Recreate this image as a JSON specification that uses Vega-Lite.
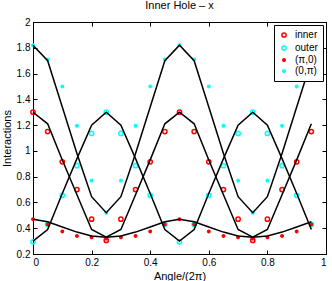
{
"$schema":"https://vega.github.io/schema/vega-lite/v6.json",
"width":293,"height":232,
"autosize":{"type":"none"},
"padding":{"left":33,"top":22,"right":6,"bottom":27},
"title":{"text":"Inner Hole – x","fontSize":11,"fontWeight":"normal","font":"Liberation Sans","offset":6,"color":"black"},
"config":{
 "font":"Liberation Sans",
 "view":{"stroke":"black","strokeWidth":1},
 "axis":{"grid":false,"domainColor":"black","tickColor":"black","labelColor":"black","titleColor":"black","labelFont":"Liberation Sans","titleFont":"Liberation Sans","labelFontSize":10,"titleFontSize":11,"titleFontWeight":"normal","tickSize":-4,"labelPadding":7,"format":"~g"},
 "legend":{"orient":"top-right","offset":3,"fillColor":"white","strokeColor":"black","padding":5,"labelFontSize":10,"labelFont":"Liberation Sans","labelColor":"black","rowPadding":1,"symbolStrokeWidth":1.5,"labelOffset":6}
},
"resolve":{"axis":{"x":"independent","y":"independent"}},
"layer":[
{
 "data":{"values":[
{"s":"inner","x":0,"y":1.30},{"s":"inner","x":0.05,"y":1.15},{"s":"inner","x":0.1,"y":0.915},{"s":"inner","x":0.15,"y":0.70},{"s":"inner","x":0.2,"y":0.47},{"s":"inner","x":0.25,"y":0.305},{"s":"inner","x":0.3,"y":0.47},{"s":"inner","x":0.35,"y":0.70},{"s":"inner","x":0.4,"y":0.915},{"s":"inner","x":0.45,"y":1.15},
{"s":"inner","x":0.5,"y":1.30},{"s":"inner","x":0.55,"y":1.15},{"s":"inner","x":0.6,"y":0.915},{"s":"inner","x":0.65,"y":0.70},{"s":"inner","x":0.7,"y":0.47},{"s":"inner","x":0.75,"y":0.305},{"s":"inner","x":0.8,"y":0.47},{"s":"inner","x":0.85,"y":0.70},{"s":"inner","x":0.9,"y":0.915},{"s":"inner","x":0.95,"y":1.15},
{"s":"outer","x":0,"y":0.295},{"s":"outer","x":0.05,"y":0.43},{"s":"outer","x":0.1,"y":0.655},{"s":"outer","x":0.15,"y":0.885},{"s":"outer","x":0.2,"y":1.135},{"s":"outer","x":0.25,"y":1.30},{"s":"outer","x":0.3,"y":1.135},{"s":"outer","x":0.35,"y":0.885},{"s":"outer","x":0.4,"y":0.655},{"s":"outer","x":0.45,"y":0.43},
{"s":"outer","x":0.5,"y":0.295},{"s":"outer","x":0.55,"y":0.43},{"s":"outer","x":0.6,"y":0.655},{"s":"outer","x":0.65,"y":0.885},{"s":"outer","x":0.7,"y":1.135},{"s":"outer","x":0.75,"y":1.30},{"s":"outer","x":0.8,"y":1.135},{"s":"outer","x":0.85,"y":0.885},{"s":"outer","x":0.9,"y":0.655},{"s":"outer","x":0.95,"y":0.43},
{"s":"(π,0)","x":0,"y":0.47},{"s":"(π,0)","x":0.05,"y":0.43},{"s":"(π,0)","x":0.1,"y":0.375},{"s":"(π,0)","x":0.15,"y":0.34},{"s":"(π,0)","x":0.2,"y":0.33},{"s":"(π,0)","x":0.25,"y":0.32},{"s":"(π,0)","x":0.3,"y":0.33},{"s":"(π,0)","x":0.35,"y":0.34},{"s":"(π,0)","x":0.4,"y":0.375},{"s":"(π,0)","x":0.45,"y":0.43},
{"s":"(π,0)","x":0.5,"y":0.47},{"s":"(π,0)","x":0.55,"y":0.43},{"s":"(π,0)","x":0.6,"y":0.375},{"s":"(π,0)","x":0.65,"y":0.34},{"s":"(π,0)","x":0.7,"y":0.33},{"s":"(π,0)","x":0.75,"y":0.32},{"s":"(π,0)","x":0.8,"y":0.33},{"s":"(π,0)","x":0.85,"y":0.34},{"s":"(π,0)","x":0.9,"y":0.375},{"s":"(π,0)","x":0.95,"y":0.43},
{"s":"(0,π)","x":0,"y":1.82},{"s":"(0,π)","x":0.05,"y":1.71},{"s":"(0,π)","x":0.1,"y":1.50},{"s":"(0,π)","x":0.15,"y":1.195},{"s":"(0,π)","x":0.2,"y":0.77},{"s":"(0,π)","x":0.25,"y":0.52},{"s":"(0,π)","x":0.3,"y":0.77},{"s":"(0,π)","x":0.35,"y":1.195},{"s":"(0,π)","x":0.4,"y":1.50},{"s":"(0,π)","x":0.45,"y":1.71},
{"s":"(0,π)","x":0.5,"y":1.82},{"s":"(0,π)","x":0.55,"y":1.71},{"s":"(0,π)","x":0.6,"y":1.50},{"s":"(0,π)","x":0.65,"y":1.195},{"s":"(0,π)","x":0.7,"y":0.77},{"s":"(0,π)","x":0.75,"y":0.52},{"s":"(0,π)","x":0.8,"y":0.77},{"s":"(0,π)","x":0.85,"y":1.195},{"s":"(0,π)","x":0.9,"y":1.50},{"s":"(0,π)","x":0.95,"y":1.71}
 ]},
 "mark":{"type":"point","opacity":1,"strokeWidth":1.5},
 "encoding":{
  "x":{"field":"x","type":"quantitative","scale":{"domain":[0,1],"nice":false},"axis":null},
  "y":{"field":"y","type":"quantitative","scale":{"domain":[0.2,2],"nice":false,"zero":false},"axis":null},
  "stroke":{"field":"s","type":"nominal","scale":{"domain":["inner","outer","(π,0)","(0,π)"],"range":["#ff0000","#00ffff","#ff0000","#00ffff"]},"legend":{"title":null}},
  "fill":{"field":"s","type":"nominal","scale":{"domain":["inner","outer","(π,0)","(0,π)"],"range":["rgba(255,255,255,0)","rgba(255,255,255,0)","#ff0000","#00ffff"]},"legend":{"title":null}},
  "size":{"field":"s","type":"nominal","scale":{"type":"ordinal","domain":["inner","outer","(π,0)","(0,π)"],"range":[18,18,6,6]},"legend":{"title":null}}
 }
},
{
 "data":{"values":[
{"f":"z","x":0,"y":1.82},{"f":"z","x":0.05,"y":1.70},{"f":"z","x":0.1,"y":1.34},{"f":"z","x":0.15,"y":0.98},{"f":"z","x":0.2,"y":0.645},{"f":"z","x":0.25,"y":0.52},{"f":"z","x":0.3,"y":0.645},{"f":"z","x":0.35,"y":0.98},{"f":"z","x":0.4,"y":1.34},{"f":"z","x":0.45,"y":1.70},
{"f":"z","x":0.5,"y":1.82},{"f":"z","x":0.55,"y":1.70},{"f":"z","x":0.6,"y":1.34},{"f":"z","x":0.65,"y":0.98},{"f":"z","x":0.7,"y":0.645},{"f":"z","x":0.75,"y":0.52},{"f":"z","x":0.8,"y":0.645},{"f":"z","x":0.85,"y":0.98},{"f":"z","x":0.9,"y":1.34},{"f":"z","x":0.95,"y":1.70},
{"f":"i","x":0,"y":1.30},{"f":"i","x":0.05,"y":1.21},{"f":"i","x":0.1,"y":0.93},{"f":"i","x":0.15,"y":0.66},{"f":"i","x":0.2,"y":0.39},{"f":"i","x":0.25,"y":0.33},{"f":"i","x":0.3,"y":0.39},{"f":"i","x":0.35,"y":0.66},{"f":"i","x":0.4,"y":0.93},{"f":"i","x":0.45,"y":1.21},
{"f":"i","x":0.5,"y":1.30},{"f":"i","x":0.55,"y":1.21},{"f":"i","x":0.6,"y":0.93},{"f":"i","x":0.65,"y":0.66},{"f":"i","x":0.7,"y":0.39},{"f":"i","x":0.75,"y":0.33},{"f":"i","x":0.8,"y":0.39},{"f":"i","x":0.85,"y":0.66},{"f":"i","x":0.9,"y":0.93},{"f":"i","x":0.95,"y":1.21},
{"f":"o","x":0,"y":0.30},{"f":"o","x":0.05,"y":0.39},{"f":"o","x":0.1,"y":0.67},{"f":"o","x":0.15,"y":0.94},{"f":"o","x":0.2,"y":1.20},{"f":"o","x":0.25,"y":1.30},{"f":"o","x":0.3,"y":1.20},{"f":"o","x":0.35,"y":0.94},{"f":"o","x":0.4,"y":0.67},{"f":"o","x":0.45,"y":0.39},
{"f":"o","x":0.5,"y":0.30},{"f":"o","x":0.55,"y":0.39},{"f":"o","x":0.6,"y":0.67},{"f":"o","x":0.65,"y":0.94},{"f":"o","x":0.7,"y":1.20},{"f":"o","x":0.75,"y":1.30},{"f":"o","x":0.8,"y":1.20},{"f":"o","x":0.85,"y":0.94},{"f":"o","x":0.9,"y":0.67},{"f":"o","x":0.95,"y":0.39},
{"f":"p","x":0,"y":0.47},{"f":"p","x":0.05,"y":0.45},{"f":"p","x":0.1,"y":0.41},{"f":"p","x":0.15,"y":0.37},{"f":"p","x":0.2,"y":0.34},{"f":"p","x":0.25,"y":0.33},{"f":"p","x":0.3,"y":0.34},{"f":"p","x":0.35,"y":0.37},{"f":"p","x":0.4,"y":0.41},{"f":"p","x":0.45,"y":0.45},
{"f":"p","x":0.5,"y":0.47},{"f":"p","x":0.55,"y":0.45},{"f":"p","x":0.6,"y":0.41},{"f":"p","x":0.65,"y":0.37},{"f":"p","x":0.7,"y":0.34},{"f":"p","x":0.75,"y":0.33},{"f":"p","x":0.8,"y":0.34},{"f":"p","x":0.85,"y":0.37},{"f":"p","x":0.9,"y":0.41},{"f":"p","x":0.95,"y":0.45}
 ]},
 "mark":{"type":"line","color":"black","strokeWidth":1.5},
 "encoding":{
  "x":{"field":"x","type":"quantitative","scale":{"domain":[0,1],"nice":false},"axis":{"values":[0,0.2,0.4,0.6,0.8,1],"title":"Angle/(2π)","titlePadding":3}},
  "y":{"field":"y","type":"quantitative","scale":{"domain":[0.2,2],"nice":false,"zero":false},"axis":{"values":[0.2,0.4,0.6,0.8,1,1.2,1.4,1.6,1.8,2],"title":"Interactions","titlePadding":4}},
  "detail":{"field":"f","type":"nominal"}
 }
},
{
 "data":{"values":[{"x":0,"y":0.2},{"x":1,"y":2}]},
 "mark":{"type":"point","opacity":0},
 "encoding":{
  "x":{"field":"x","type":"quantitative","scale":{"domain":[0,1],"nice":false},"axis":{"orient":"top","values":[0,0.2,0.4,0.6,0.8,1],"labels":false,"title":null}},
  "y":{"field":"y","type":"quantitative","scale":{"domain":[0.2,2],"nice":false,"zero":false},"axis":{"orient":"right","values":[0.2,0.4,0.6,0.8,1,1.2,1.4,1.6,1.8,2],"labels":false,"title":null}}
 }
}
]
}
